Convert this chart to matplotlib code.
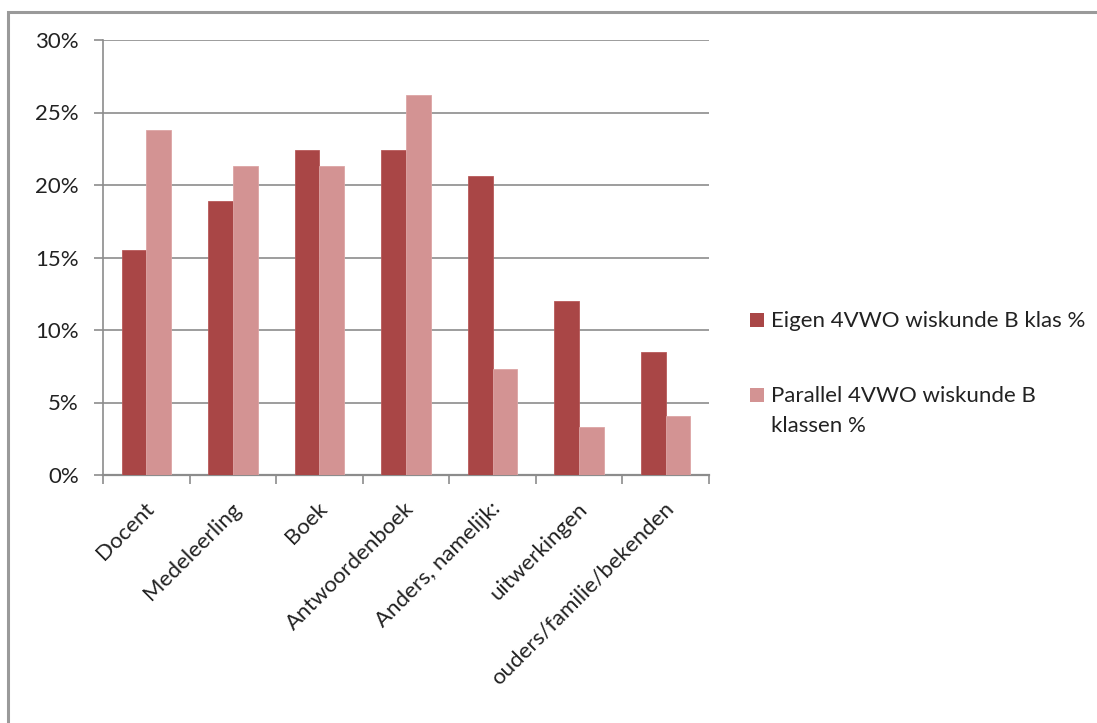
import matplotlib
matplotlib.use("Agg")
import matplotlib.pyplot as plt
from matplotlib.patches import Rectangle
from matplotlib.ticker import FuncFormatter, MultipleLocator
from matplotlib.transforms import ScaledTranslation
import numpy as np

plt.rcParams['font.family'] = ['Lato', 'DejaVu Sans']

categories = ["Docent", "Medeleerling", "Boek", "Antwoordenboek",
              "Anders, namelijk:", "uitwerkingen", "ouders/familie/bekenden"]
eigen = [15.5, 18.9, 22.4, 22.4, 20.6, 12.0, 8.5]
parallel = [23.8, 21.3, 21.3, 26.2, 7.3, 3.3, 4.1]
series_names = ["Eigen 4VWO wiskunde B klas %",
                "Parallel 4VWO wiskunde B\nklassen %"]

dark = "#A94646"
light = "#D39393"
grid_col = "#8C8C8C"
text_col = "#222222"
fs = 16

W, H = 1097, 723
fig = plt.figure(figsize=(W / 100, H / 100), dpi=100)
fig.patch.set_facecolor("white")

# outer chart frame
fig.add_artist(Rectangle((8 / W, -0.05), 1.2, (H - 12) / H + 0.05,
                         transform=fig.transFigure, fill=False,
                         edgecolor="#9A9A9A", linewidth=2.2))

ax = fig.add_axes([103 / W, (H - 475) / H, (709 - 103) / W, (475 - 40) / H])

x = np.arange(len(categories))
w = 1 / 3.5
b1 = ax.bar(x - w / 2, eigen, width=w, color=dark, edgecolor="#B85A5A", linewidth=0.6,
            zorder=3)
b2 = ax.bar(x + w / 2, parallel, width=w, color=light, edgecolor="#DDA5A5", linewidth=0.6,
            zorder=3)

ax.set_xlim(-0.5, len(categories) - 0.5)
ax.set_ylim(0, 30)
ax.yaxis.set_major_locator(MultipleLocator(5))
ax.yaxis.set_major_formatter(FuncFormatter(lambda v, p: f"{v:.0f}%"))
ax.grid(axis="y", color=grid_col, linewidth=1.2, zorder=0)
ax.set_axisbelow(True)

for s in ["top", "right"]:
    ax.spines[s].set_visible(False)
ax.spines["left"].set_color(grid_col)
ax.spines["bottom"].set_color(grid_col)
ax.spines["left"].set_linewidth(1.2)
ax.spines["bottom"].set_linewidth(1.6)

ax.tick_params(axis="y", length=6.5, width=1.2, color=grid_col, labelsize=fs,
               labelcolor=text_col, pad=10.8)
# category boundary ticks on the x axis
ax.set_xticks(np.arange(len(categories) + 1) - 0.5, minor=False)
ax.set_xticklabels([])
ax.tick_params(axis="x", which="major", length=6.5, width=1.2, color=grid_col)
ax.set_xticks(x, minor=True)
ax.set_xticklabels(categories, minor=True, rotation=45, ha="right", va="top",
                   rotation_mode="anchor", fontsize=fs, color=text_col)
ax.tick_params(axis="x", which="minor", length=0, pad=17)
shift = ScaledTranslation(-2 / 100, 0, fig.dpi_scale_trans)
for lbl in ax.get_xticklabels(minor=True):
    lbl.set_transform(lbl.get_transform() + shift)

# legend on the right
legend_items = [(series_names[0], dark, 327), (series_names[1], light, 402)]
for name, col, base in legend_items:
    fig.add_artist(Rectangle((750 / W, (H - base) / H), 14 / W, 14 / H,
                             transform=fig.transFigure, facecolor=col,
                             edgecolor="none"))
    for i, line in enumerate(name.split("\n")):
        fig.text(771 / W, (H - base - 30 * i) / H, line, fontsize=fs,
                 color=text_col, va="baseline", ha="left")

fig.savefig("out.png", dpi=100, facecolor="white")
